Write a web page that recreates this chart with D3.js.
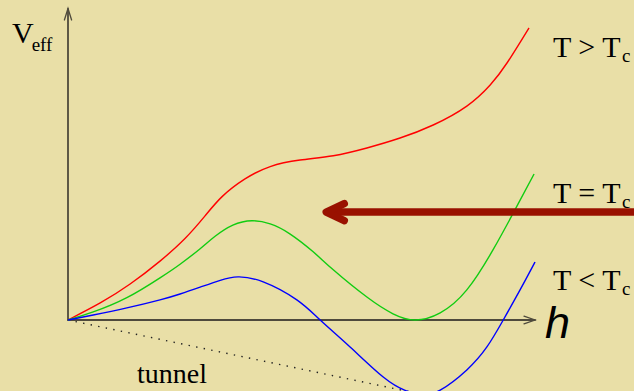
<!DOCTYPE html>
<html>
<head>
<meta charset="utf-8">
<script src="https://cdn.jsdelivr.net/npm/d3@7"></script>
<style>
  html, body { margin: 0; padding: 0; background: #e9dfa7; }
  svg { display: block; }
</style>
</head>
<body>
<svg id="chart" width="634" height="391"></svg>
<script>
// Effective potential V_eff(h) at three temperatures: [h, V] pairs
const curveAbove = [[0,0],[0.69,0.55],[1.33,1.16],[1.97,1.9],[2.5,2.62],[2.93,3.35],[3.3,3.98],[3.79,4.55],[4.33,4.95],[4.97,5.16],[5.68,5.3],[6.4,5.55],[7.11,5.87],[7.82,6.29],[8.54,6.9],[9.04,7.58],[9.4,8.29],[9.87,9.42]];
const curveCritical = [[0,0],[0.54,0.26],[1.26,0.72],[1.97,1.36],[2.4,1.8],[2.83,2.3],[3.15,2.7],[3.53,3.06],[3.94,3.2],[4.33,3.1],[4.75,2.78],[5.25,2.2],[5.68,1.62],[6.4,0.74],[6.96,0.2],[7.43,0],[7.97,0.23],[8.54,0.97],[9.1,2.26],[9.57,3.55],[9.98,4.71]];
const curveBelow = [[0,0],[0.54,0.16],[1.26,0.39],[1.97,0.65],[2.4,0.84],[2.83,1.06],[3.26,1.28],[3.64,1.39],[4.18,1.23],[4.9,0.65],[5.4,0],[6.04,-0.87],[6.75,-1.84],[7.22,-2.27],[7.58,-2.4],[7.97,-2.26],[8.54,-1.61],[8.97,-0.87],[9.32,0],[9.68,0.97],[10,1.87]];

const seriesNames = ["T > T", "T = T", "T < T"];
const seriesColors = ["#ff0000", "#11cc11", "#0000ff"];

// Cooling direction: the arrow runs along this V level from large h toward smaller h
const coolingArrowH = [12.3, 5.53];
const coolingArrowV = 3.48;

const svg = d3.select("#chart");
const W = 634, H = 391;

svg.append("rect").attr("width", W).attr("height", H).attr("fill", "#e9dfa7");

const x = d3.scaleLinear().domain([0, 10]).range([68, 535]);
const y = d3.scaleLinear().domain([0, 10]).range([320, 10]);

const axisColor = "#4f4a3c";

// axes with open arrowheads
const gAxes = svg.append("g").attr("stroke", axisColor).attr("fill", "none")
  .attr("stroke-width", 1.8).attr("stroke-linecap", "round");
gAxes.append("line").attr("x1", x(0)).attr("y1", y(0)).attr("x2", x(10)).attr("y2", y(0));
gAxes.append("line").attr("x1", x(0)).attr("y1", y(0)).attr("x2", x(0)).attr("y2", y(10) - 1);
gAxes.append("path").attr("stroke-width", 1.3)
  .attr("d", `M${x(10) - 11},${y(0) - 3.8} L${x(10)},${y(0)} L${x(10) - 11},${y(0) + 3.8}`);
gAxes.append("path").attr("stroke-width", 1.3)
  .attr("d", `M${x(0) - 3.6},${y(10) + 10} L${x(0)},${y(10) - 1.5} L${x(0) + 3.6},${y(10) + 10}`);

// tunnelling path from the origin to the true minimum
const trueMin = curveBelow.reduce((a, b) => (b[1] < a[1] ? b : a));
svg.append("line")
  .attr("x1", x(0)).attr("y1", y(0))
  .attr("x2", x(trueMin[0])).attr("y2", y(trueMin[1]))
  .attr("stroke", "#222").attr("stroke-width", 1.4)
  .attr("stroke-dasharray", "1.4 6.3");

// potential curves
const line = d3.line()
  .x(d => x(d[0])).y(d => y(d[1]))
  .curve(d3.curveNatural);

[curveAbove, curveCritical, curveBelow].forEach((data, i) => {
  svg.append("path")
    .attr("d", line(data))
    .attr("fill", "none")
    .attr("stroke", seriesColors[i])
    .attr("stroke-width", 1.4)
    .attr("stroke-linejoin", "round");
});

// thick cooling arrow
const arrowColor = "#991100";
const ay = y(coolingArrowV);
const tipX = x(coolingArrowH[1]);
svg.append("line")
  .attr("x1", x(coolingArrowH[0])).attr("y1", ay)
  .attr("x2", tipX + 2).attr("y2", ay)
  .attr("stroke", arrowColor).attr("stroke-width", 7.5);
svg.append("path")
  .attr("d", `M${tipX + 18},${ay - 8.5} L${tipX},${ay} L${tipX + 18},${ay + 8.5}`)
  .attr("fill", "none").attr("stroke", arrowColor).attr("stroke-width", 7.5)
  .attr("stroke-linecap", "round").attr("stroke-linejoin", "round");

// labels
const serif = "'Liberation Serif', 'Times New Roman', serif";
const labelY = [57, 203, 290];
seriesNames.forEach((name, i) => {
  const t = svg.append("text")
    .attr("x", 553).attr("y", labelY[i])
    .attr("font-family", serif).attr("font-size", 30).attr("fill", "#000");
  t.append("tspan").text(name).attr("xml:space", "preserve");
  t.append("tspan").text("c").attr("font-size", 19).attr("dx", 1.5).attr("dy", 5);
});

const vt = svg.append("text")
  .attr("x", 12).attr("y", 43)
  .attr("font-family", serif).attr("font-size", 30).attr("fill", "#000");
vt.append("tspan").text("V");
vt.append("tspan").text("eff").attr("font-size", 19).attr("dx", -2).attr("dy", 8);

svg.append("text")
  .attr("x", 137).attr("y", 383)
  .attr("font-family", serif).attr("font-size", 28).attr("fill", "#000")
  .text("tunnel");

svg.append("text")
  .attr("x", 545).attr("y", 338)
  .attr("font-family", "'Liberation Sans', Arial, sans-serif")
  .attr("font-style", "italic").attr("font-size", 45).attr("fill", "#000")
  .text("h");
</script>
</body>
</html>
